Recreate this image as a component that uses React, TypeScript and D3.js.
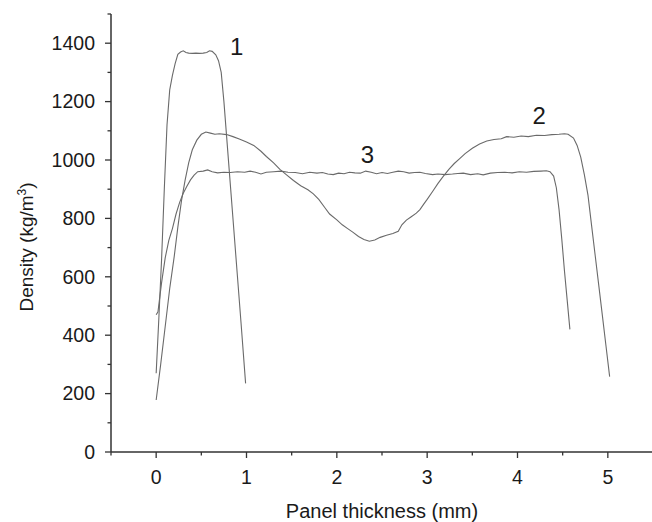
import React from "react";
import * as d3 from "d3";

// ---- data ----
const xTicks = [0, 1, 2, 3, 4, 5];
const yTicks = [0, 200, 400, 600, 800, 1000, 1200, 1400];

const curve1X = [0.0, 0.03, 0.06, 0.09, 0.12, 0.15, 0.18, 0.21, 0.24, 0.27, 0.3, 0.33, 0.36, 0.4, 0.44, 0.48, 0.52, 0.56, 0.59, 0.62, 0.66, 0.69, 0.72, 0.75, 0.78, 0.82, 0.86, 0.9, 0.94, 0.99];
const curve1Y = [270, 460, 660, 900, 1120, 1240, 1290, 1330, 1362, 1370, 1374, 1368, 1366, 1365, 1366, 1365, 1366, 1368, 1374, 1372, 1360, 1340, 1300, 1200, 1080, 920, 760, 600, 440, 235];

const curve2X = [0.0, 0.05, 0.1, 0.15, 0.2, 0.24, 0.28, 0.32, 0.36, 0.4, 0.45, 0.5, 0.55, 0.6, 0.65, 0.7, 0.78, 0.85, 0.92, 1.0, 1.08, 1.16, 1.22, 1.3, 1.37, 1.44, 1.52, 1.6, 1.68, 1.74, 1.8, 1.86, 1.92, 2.0, 2.06, 2.12, 2.18, 2.24, 2.3, 2.36, 2.42, 2.48, 2.55, 2.62, 2.68, 2.72, 2.77, 2.82, 2.88, 2.92, 2.96, 3.0, 3.06, 3.12, 3.18, 3.24, 3.3, 3.36, 3.42, 3.5, 3.58, 3.66, 3.74, 3.82, 3.88, 3.96, 4.04, 4.12, 4.21, 4.3, 4.38, 4.46, 4.52, 4.56, 4.62, 4.66, 4.7, 4.74, 4.78, 4.82, 4.86, 4.9, 4.94, 4.98, 5.02];
const curve2Y = [178, 300, 430, 560, 670, 770, 860, 930, 990, 1035, 1068, 1088, 1096, 1092, 1088, 1090, 1087, 1080, 1072, 1062, 1050, 1030, 1012, 990, 968, 950, 930, 912, 898, 884, 865, 840, 815, 795, 778, 765, 752, 738, 728, 722, 726, 735, 742, 748, 756, 778, 794, 805, 818, 830, 848, 865, 892, 920, 945, 968, 988, 1005, 1022, 1040, 1055, 1065, 1070, 1073, 1080, 1078, 1082, 1080, 1085, 1084, 1087, 1088, 1090, 1088, 1075, 1050, 1010, 950, 880, 776, 673, 570, 466, 362, 258];

const curve3X = [0.0, 0.02, 0.06, 0.1, 0.14, 0.18, 0.22, 0.26, 0.3, 0.34, 0.38, 0.42, 0.46, 0.52, 0.57, 0.62, 0.68, 0.75, 0.82, 0.9, 0.98, 1.04, 1.1, 1.16, 1.22, 1.3, 1.38, 1.46, 1.54, 1.62, 1.7, 1.78, 1.84, 1.9, 1.96, 2.02, 2.08, 2.14, 2.2, 2.26, 2.32, 2.38, 2.44, 2.5, 2.56, 2.62, 2.68, 2.74, 2.8, 2.86, 2.92, 2.98, 3.06, 3.12, 3.2, 3.28, 3.34, 3.4, 3.48, 3.56, 3.62, 3.7, 3.78, 3.86, 3.94, 4.02, 4.1, 4.18, 4.26, 4.32, 4.36, 4.4, 4.43, 4.46, 4.49, 4.52, 4.55, 4.58];
const curve3Y = [470, 480, 580, 665, 725, 765, 815, 855, 886, 910, 932, 948, 960, 962, 966, 960, 956, 958, 957, 960, 958, 962, 958, 952, 958, 960, 962, 958, 957, 953, 958, 955, 957, 952, 950, 955, 953, 958, 956, 955, 962, 958, 953, 957, 954, 958, 962, 960, 955, 957, 958, 954, 950, 952, 950, 952, 954, 955, 950, 953, 949, 955, 957, 958, 956, 960, 958, 961, 962, 963, 960, 945, 905, 830, 730, 620, 520, 420];

const curveLabels = ["1", "2", "3"];
const labelX = [0.89, 4.24, 2.34];
const labelY = [1360, 1125, 990];

const W = 652;
const H = 522;

export default function App() {
  const x = d3.scaleLinear().domain([-0.5, 5.5]).range([111, 653]);
  const y = d3.scaleLinear().domain([0, 1500]).range([452, 14]);

  const mk = (xs: number[], ys: number[]) => xs.map((v, i) => [v, ys[i]] as [number, number]);
  const line = d3
    .line<[number, number]>()
    .x((d) => x(d[0]))
    .y((d) => y(d[1]));

  const series = [mk(curve1X, curve1Y), mk(curve2X, curve2Y), mk(curve3X, curve3Y)];

  const xMinor = d3.range(-0.5, 5.51, 0.5).filter((v) => Math.abs(v - Math.round(v)) > 0.01);
  const yMinor = d3.range(100, 1501, 200);

  const font = "'Liberation Sans', Arial, Helvetica, sans-serif";
  const axisColor = "#333";
  const textColor = "#1a1a1a";

  return (
    <svg
      width={W}
      height={H}
      style={{ position: "absolute", left: 0, top: 0, background: "#fff" }}
      fontFamily={font}
    >
      <rect x={0} y={0} width={W} height={H} fill="#fff" />
      {/* curves */}
      {series.map((s, i) => (
        <path key={i} d={line(s) || ""} fill="none" stroke="#6a6a6a" strokeWidth={1.1} />
      ))}
      {/* axes */}
      <line x1={x(-0.5)} x2={x(-0.5)} y1={y(1500)} y2={y(0)} stroke={axisColor} strokeWidth={1.5} />
      <line x1={x(-0.5)} x2={W} y1={y(0)} y2={y(0)} stroke={axisColor} strokeWidth={1.5} />
      {yTicks.map((t) => (
        <g key={"yt" + t}>
          <line x1={x(-0.5) - 6} x2={x(-0.5)} y1={y(t)} y2={y(t)} stroke={axisColor} strokeWidth={1.3} />
          <text x={95} y={y(t)} dy="0.35em" textAnchor="end" fontSize={19.5} fill={textColor}>
            {t}
          </text>
        </g>
      ))}
      {yMinor.map((t) => (
        <line key={"ym" + t} x1={x(-0.5) - 3.5} x2={x(-0.5)} y1={y(t)} y2={y(t)} stroke={axisColor} strokeWidth={1.3} />
      ))}
      {xTicks.map((t) => (
        <g key={"xt" + t}>
          <line x1={x(t)} x2={x(t)} y1={y(0)} y2={y(0) + 6} stroke={axisColor} strokeWidth={1.3} />
          <text x={x(t)} y={484} textAnchor="middle" fontSize={19.5} fill={textColor}>
            {t}
          </text>
        </g>
      ))}
      {xMinor.map((t) => (
        <line key={"xm" + t} x1={x(t)} x2={x(t)} y1={y(0)} y2={y(0) + 3.5} stroke={axisColor} strokeWidth={1.3} />
      ))}
      {/* axis titles */}
      <text x={382} y={518} textAnchor="middle" fontSize={20} fill={textColor}>
        Panel thickness (mm)
      </text>
      <text transform="translate(33,247) rotate(-90)" textAnchor="middle" fontSize={19} fill={textColor}>
        Density (kg/m
        <tspan fontSize={12} dy={-7}>
          3
        </tspan>
        <tspan dy={7}>)</tspan>
      </text>
      {/* curve labels */}
      {curveLabels.map((l, i) => (
        <text key={l} x={x(labelX[i])} y={y(labelY[i])} textAnchor="middle" fontSize={24} fill={textColor}>
          {l}
        </text>
      ))}
    </svg>
  );
}
